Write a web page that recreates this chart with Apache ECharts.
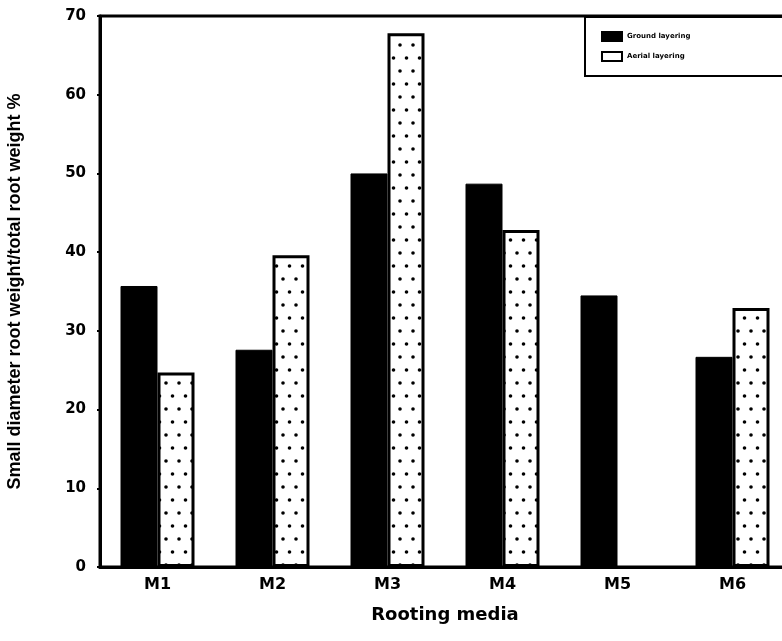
<!DOCTYPE html>
<html>
<head>
<meta charset="utf-8">
<script src="https://cdn.jsdelivr.net/npm/echarts@6/dist/echarts.min.js"></script>
<style>html,body{margin:0;padding:0;background:#fff;}#c{width:782px;height:641px;}</style>
</head>
<body>
<div id="c"></div>
<script>
const categories = ['M1', 'M2', 'M3', 'M4', 'M5', 'M6'];
const groundValues = [35.7, 27.6, 50.0, 48.7, 34.5, 26.7];
const aerialValues = [24.7, 39.6, 67.8, 42.8, null, 32.9];
const seriesNames = ['Ground layering', 'Aerial layering'];
const yTicks = { min: 0, max: 70, interval: 10 };

// dotted pattern for the second series
const pc = document.createElement('canvas');
pc.width = 13; pc.height = 26;
const pctx = pc.getContext('2d');
pctx.fillStyle = '#fff'; pctx.fillRect(0, 0, 13, 26);
pctx.fillStyle = '#000';
pctx.beginPath(); pctx.arc(3.5, 6, 1.8, 0, Math.PI * 2); pctx.fill();
pctx.beginPath(); pctx.arc(10, 19, 1.8, 0, Math.PI * 2); pctx.fill();

const chart = echarts.init(document.getElementById('c'));
const boldFont = 'DejaVu Sans';
chart.setOption({
  animation: false,
  backgroundColor: '#fff',
  grid: { left: 100, top: 16, width: 690, height: 551, show: true, borderColor: '#000', borderWidth: 3, containLabel: false, outerBoundsMode: 'none' },
  legend: {
    left: 585, top: 17, orient: 'vertical', icon: 'rect',
    itemWidth: 20, itemHeight: 9, itemGap: 9,
    padding: [14, 100, 14, 16],
    borderColor: '#000', borderWidth: 2, backgroundColor: '#fff',
    textStyle: { fontSize: 7, fontWeight: 'bold', color: '#000', fontFamily: boldFont },
    data: [
      { name: seriesNames[0], itemStyle: { color: '#000' } },
      { name: seriesNames[1], itemStyle: { color: '#fff', borderColor: '#000', borderWidth: 2 } }
    ]
  },
  xAxis: {
    type: 'category', data: categories,
    axisLine: { lineStyle: { color: '#000', width: 3 } },
    axisTick: { show: false },
    axisLabel: { color: '#000', fontSize: 16, fontWeight: 'bold', fontFamily: boldFont, margin: 10 },
    name: 'Rooting media', nameLocation: 'middle', nameGap: 39,
    nameTextStyle: { color: '#000', fontSize: 18, fontWeight: 'bold', fontFamily: boldFont }
  },
  yAxis: {
    type: 'value', min: yTicks.min, max: yTicks.max, interval: yTicks.interval,
    splitLine: { show: false },
    axisLine: { show: true, lineStyle: { color: '#000', width: 3 } },
    axisTick: { show: true, length: 3, lineStyle: { color: '#000', width: 2 } },
    axisLabel: { color: '#000', fontSize: 15, fontWeight: 'bold', fontFamily: boldFont, margin: 14 },
    name: 'Small diameter root weight/total root weight %', nameLocation: 'middle', nameRotate: 90, nameGap: 76,
    nameTextStyle: { color: '#000', fontSize: 18, fontWeight: 'bold', fontFamily: 'Liberation Sans' }
  },
  series: [
    {
      name: seriesNames[0], type: 'bar', data: groundValues,
      barWidth: 37, barGap: '0%',
      itemStyle: { color: '#000', borderColor: '#000', borderWidth: 1 }
    },
    {
      name: seriesNames[1], type: 'bar', data: aerialValues,
      barWidth: 37,
      itemStyle: { color: { image: pc, repeat: 'repeat' }, borderColor: '#000', borderWidth: 3 }
    }
  ]
});
</script>
</body>
</html>
